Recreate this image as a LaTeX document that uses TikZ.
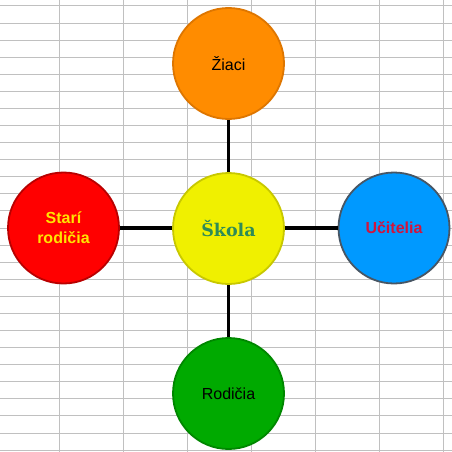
\documentclass[tikz,border=0pt]{standalone}
\usepackage{fontspec}
\newfontfamily\arialfont{Liberation Sans}
\newfontfamily\skolafont{DejaVu Serif}
\definecolor{gridc}{RGB}{192,192,192}
\definecolor{orfill}{RGB}{255,140,0}
\definecolor{ordraw}{RGB}{222,118,0}
\definecolor{yefill}{RGB}{240,240,0}
\definecolor{yedraw}{RGB}{200,200,0}
\definecolor{refill}{RGB}{255,0,0}
\definecolor{redraw}{RGB}{185,0,0}
\definecolor{blfill}{RGB}{0,153,255}
\definecolor{bldraw}{RGB}{72,86,100}
\definecolor{grfill}{RGB}{0,170,0}
\definecolor{grdraw}{RGB}{0,135,0}
\definecolor{skolac}{RGB}{46,139,87}
\definecolor{starc}{RGB}{255,228,0}
\definecolor{ucitc}{RGB}{210,20,60}
\begin{document}
\begin{tikzpicture}[x=1pt,y=-1pt,
  gridline/.style={draw=gridc,line width=1pt},
  bubble/.style={circle,inner sep=0pt,minimum size=111pt,line width=1.8pt,align=center,
     font=\arialfont\fontsize{16}{20}\selectfont},
  spoke/.style={line width=3.8pt,black}]
\useasboundingbox (0,0) rectangle (452,452);
\fill[white] (0,0) rectangle (452,452);
\foreach \x in {59,123,187,251,315,379,443}
  \draw[gridline] (\x,0) -- (\x,452);
\foreach \k in {0,...,26}
  \draw[gridline] (0,6+\k*17.08) -- (452,6+\k*17.08);
\node[bubble,fill=orfill,draw=ordraw] (ziaci) at (228.5,63.5) {Žiaci};
\node[bubble,fill=refill,draw=redraw,text=starc,font=\arialfont\bfseries\fontsize{16}{20}\selectfont] (stari) at (63.5,228) {Starí\\rodičia};
\node[bubble,fill=blfill,draw=bldraw,text=ucitc,font=\arialfont\bfseries\fontsize{16}{20}\selectfont] (ucitelia) at (394,228) {Učitelia};
\node[bubble,fill=grfill,draw=grdraw] (rodicia) at (228.5,393.5) {Rodičia};
\draw[spoke] (ziaci) -- (rodicia);
\draw[spoke] (stari) -- (ucitelia);
\node[bubble,fill=yefill,draw=yedraw,text=skolac,font=\skolafont\bfseries\fontsize{17.5}{21}\selectfont] (skola) at (228.5,228.5) {Škola};
\end{tikzpicture}
\end{document}
